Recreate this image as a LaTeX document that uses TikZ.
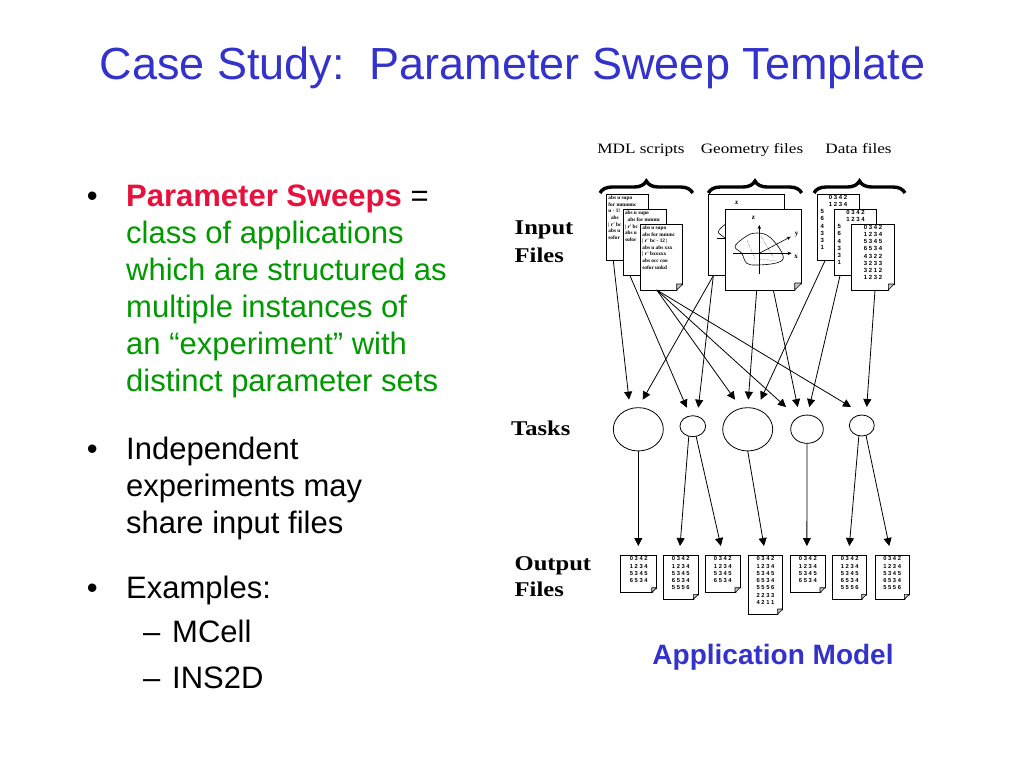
\documentclass[tikz,border=0pt]{standalone}
\usepackage{fontspec}
\usepackage{graphicx}
\setmainfont{Liberation Sans}
\newfontfamily\serifrm{Liberation Serif}
\usetikzlibrary{arrows.meta,decorations.pathreplacing,shapes.geometric,calc}
\definecolor{titleblue}{RGB}{51,51,204}
\definecolor{keyred}{RGB}{232,16,60}
\definecolor{txtgreen}{RGB}{0,153,0}
\frenchspacing
\newcommand\dogear[2]{%
  \fill[white] ($(#1.south east)+(1.2,-#2)$) -- ($(#1.south east)+(1.2,1.2)$) -- ($(#1.south east)+(-#2,1.2)$) -- cycle;
  \draw[fill=gray!45, line width=0.6pt, line join=round] ($(#1.south east)+(0,-#2)$) -- ($(#1.south east)+(-#2,0)$) -- ($(#1.south east)+(-#2,-#2)$) -- cycle;
}
\newcommand\geoshape{%
  \draw[line width=0.6pt] plot[smooth cycle, tension=0.6] coordinates {(10,37.7) (18.3,29.3) (28.3,24.3) (41.7,26) (53.3,37.7) (58.3,49.3) (50,54.3) (31.7,56) (21.7,54.3) (16.7,44.3)};
  \draw[line width=0.4pt, densely dotted] (22,31) -- (30,50);
  \draw[line width=0.4pt, densely dotted] (36,27) -- (48,48);
  \draw[line width=0.4pt, densely dotted] (34,50) -- (52,52);
  \draw[line width=0.6pt, -{Stealth[length=4pt,width=3.5pt]}] (34.3,65.3) -- (34.3,16);
  \draw[line width=0.6pt, -{Stealth[length=4pt,width=3.5pt]}] (8.3,44.3) -- (66.5,44.3);
  \draw[line width=0.6pt, -{Stealth[length=4pt,width=3.5pt]}] (34.3,44.3) -- (65.7,27.7);
}
\begin{document}
\begin{tikzpicture}[x=1pt,y=-1pt,
  titlestyle/.style={anchor=base, inner sep=0, font=\fontsize{45}{54}\selectfont, text=titleblue},
  body/.style={anchor=base west, inner sep=0, font=\fontsize{31}{37}\selectfont},
  greenbody/.style={body, text=txtgreen},
  lbl/.style={anchor=base west, inner sep=0, font=\serifrm\bfseries\fontsize{21}{25}\selectfont},
  toplbl/.style={anchor=base, inner sep=0, font=\serifrm\fontsize{14.3}{16}\selectfont},
  bracestyle/.style={decorate, decoration={brace, amplitude=12pt}, line width=3.4pt},
  doc/.style={draw, fill=white, rectangle, inner sep=0, outer sep=0, anchor=north west, line width=0.8pt},
  mdltxt/.style={inner sep=0, anchor=north west, align=left, font=\serifrm\bfseries\fontsize{5.3}{6.6}\selectfont},
  datatxt/.style={inner sep=0, anchor=north, align=center, font=\bfseries\fontsize{6}{7.2}\selectfont},
  datacol/.style={inner sep=0, anchor=north west, align=left, font=\bfseries\fontsize{6}{7.2}\selectfont},
  outtxt/.style={inner sep=0, anchor=north, align=center, font=\bfseries\fontsize{5.8}{7.3}\selectfont},
  axlbl/.style={inner sep=0, font=\serifrm\bfseries\fontsize{7}{8}\selectfont},
  task/.style={draw, ellipse, inner sep=0, outer sep=0, line width=0.8pt},
  arr/.style={-{Triangle[width=8pt,length=8pt]}, line width=0.8pt}
]
\useasboundingbox[fill=white] (0,0) rectangle (1024,768);

% Title
\node[titlestyle] (title) at (512.5,79.5) {Case Study:~ Parameter Sweep Template};

% Left text
\node[body] (b1) at (86.6,206) {•};
\node[body] (l1) at (126,206) {\textcolor{keyred}{\bfseries Parameter Sweeps} =};
\node[greenbody] (l2) at (126,243) {class of applications};
\node[greenbody] (l3) at (126,280) {which are structured as};
\node[greenbody] (l4) at (126,317) {multiple instances of};
\node[greenbody] (l5) at (126,354) {an “experiment” with};
\node[greenbody] (l6) at (126,391) {distinct parameter sets};
\node[body] (b2) at (86.6,459) {•};
\node[body] (l7) at (126,459) {Independent};
\node[body] (l8) at (126,496) {experiments may};
\node[body] (l9) at (126,533) {share input files};
\node[body] (b3) at (86.6,598) {•};
\node[body] (l10) at (126,598) {Examples:};
\node[body] (d1) at (143,642) {–};
\node[body] (l11) at (172,642) {MCell};
\node[body] (d2) at (143,688) {–};
\node[body] (l12) at (172,688) {INS2D};

\node[anchor=base, inner sep=0, font=\bfseries\fontsize{28}{32}\selectfont, text=titleblue] (appmodel) at (773,664) {Application Model};

% Diagram labels
\node[lbl] (inlbl1) at (514.5,234) {\scalebox{1.17}[1]{Input}};
\node[lbl] (inlbl2) at (514.5,262) {\scalebox{1.17}[1]{Files}};
\node[lbl] (tasklbl) at (511,435) {\scalebox{1.17}[1]{Tasks}};
\node[lbl] (outlbl1) at (514.5,570) {\scalebox{1.17}[1]{Output}};
\node[lbl] (outlbl2) at (514.5,596) {\scalebox{1.17}[1]{Files}};

\node[toplbl] (mdllbl) at (641,153.5) {\scalebox{1.2}[1]{MDL scripts}};
\node[toplbl] (geolbl) at (752,153.5) {\scalebox{1.2}[1]{Geometry files}};
\node[toplbl] (datlbl) at (858.5,153.5) {\scalebox{1.2}[1]{Data files}};

\coordinate (br1a) at (600,193);  \coordinate (br1b) at (692.7,193);
\coordinate (br2a) at (708.3,193); \coordinate (br2b) at (801.7,193);
\coordinate (br3a) at (814,193);  \coordinate (br3b) at (905,193);
\draw[bracestyle] (br1a) -- (br1b);
\draw[bracestyle] (br2a) -- (br2b);
\draw[bracestyle] (br3a) -- (br3b);

% MDL scripts
\node[doc, minimum width=41.6, minimum height=66.7] (m1) at (606.7,194) {};
\node[mdltxt] (m1top) at ($(m1.north west)+(1.5,1.6)$) {abs u supo\\for mmmmc};
\node[mdltxt] (m1col) at ($(m1.north west)+(1.5,15.2)$) {u - 1!\\\ \ abs\\| r' bc\\abs u\\sofor};
\node[doc, minimum width=42.7, minimum height=66.7] (m2) at (623.3,209) {};
\node[mdltxt] (m2top) at ($(m2.north west)+(1.5,1.6)$) {abs u supo\\\ \ abs for mmmc};
\node[mdltxt] (m2col) at ($(m2.north west)+(1.5,15.2)$) {| r' bc\\abs u\\sofor\\};
\node[doc, minimum width=42, minimum height=66] (m3) at (640.7,224) {};
\begin{scope}\clip (m3.north west) rectangle (m3.south east);
\node[mdltxt] (m3txt) at ($(m3.north west)+(1.5,1.6)$) {abs u supo\\abs for mmmc\\| r' bc - 12 |\\abs u abs xxx\\| r' bxxxxx\\abs occ coo\\sofor unkd};\end{scope}
\dogear{m3}{6}

% Geometry files
\node[doc, minimum width=75.7, minimum height=81.7] (g1) at (708.3,194) {};
\begin{scope}[shift={(708.3,194)}]
  \begin{scope}\clip (0,0) rectangle (75.7,81.7); \geoshape \end{scope}
  \node[axlbl] (g1z) at (28.3,9.3) {z};
\end{scope}
\node[doc, minimum width=76.7, minimum height=81] (g2) at (725,209) {};
\begin{scope}[shift={(725,209)}]
  \geoshape
  \node[axlbl] (g2z) at (28.3,9.3) {z};
  \node[axlbl] (g2x) at (71,47.7) {x};
  \node[axlbl] (g2y) at (71.7,25.3) {y};
\end{scope}
\dogear{g2}{7}

% Data files
\node[doc, minimum width=41.7, minimum height=66.7] (f1) at (817.3,194) {};
\node[datatxt] (f1top) at ($(f1.north)+(0,1)$) {0 3 4 2\\1 2 3 4};
\node[datacol] (f1col) at ($(f1.north west)+(3,15.4)$) {5\\6\\4\\3\\3\\1};
\node[doc, minimum width=42.4, minimum height=66.7] (f2) at (834.3,209) {};
\node[datatxt] (f2top) at ($(f2.north)+(0,1)$) {0 3 4 2\\1 2 3 4};
\node[datacol] (f2col) at ($(f2.north west)+(3,15.4)$) {5\\6\\4\\3\\3\\1};
\node[doc, minimum width=42.6, minimum height=66] (f3) at (851.7,224) {};
\node[datatxt] (f3txt) at ($(f3.north)+(0,1)$) {0 3 4 2\\1 2 3 4\\5 3 4 5\\6 5 3 4\\4 3 2 2\\3 2 3 3\\3 2 1 2\\1 2 3 2};
\dogear{f3}{6}

% Tasks
\node[task, minimum width=50, minimum height=43.3] (t1) at (638.3,429.3) {};
\node[task, minimum width=25.7, minimum height=21] (t2) at (692.8,426.2) {};
\node[task, minimum width=50, minimum height=43.3] (t3) at (747.7,429.3) {};
\node[task, minimum width=32.6, minimum height=28.3] (t4) at (807,429.2) {};
\node[task, minimum width=25, minimum height=21] (t5) at (861.8,425.5) {};

% Input arrows
\draw[arr] ($(m1.south west)+(6.6,0)$) -- ($(t1.north)+(-9.3,-8)$);
\draw[arr] ($(m2.south west)+(6.7,0)$) -- ($(t2.north)+(-6.1,-8)$);
\draw[arr] ($(m3.south west)+(16,0)$) -- ($(t3.north)+(-12.7,-8)$);
\draw[arr] ($(m3.south west)+(16,0)$) -- ($(t4.north)+(-21,-8)$);
\draw[arr] ($(m3.south west)+(16,0)$) -- ($(t5.north)+(-10.8,-8)$);
\draw[arr] ($(g1.south west)+(5,0)$) -- ($(t1.north)+(4.4,-8)$);
\draw[arr] ($(g1.south west)+(5,0)$) -- ($(t2.north)+(5.5,-8)$);
\draw[arr] ($(g2.south west)+(31.7,0)$) -- ($(t3.north)+(0.6,-8)$);
\draw[arr] ($(g2.south west)+(48.3,0)$) -- ($(t4.north)+(-9.3,-8)$);
\draw[arr] ($(f1.south west)+(7.7,0)$) -- ($(t3.north)+(13,-8)$);
\draw[arr] ($(f2.south west)+(5.7,0)$) -- ($(t4.north)+(2.3,-8)$);
\draw[arr] ($(f3.south west)+(23.3,0)$) -- ($(t5.north)+(4.9,-8)$);

% Output files
\node[doc, minimum width=36, minimum height=37.7] (o1) at (620.7,555) {};
\node[outtxt] at ($(o1.north)+(0,1.5)$) {0 3 4 2\\1 2 3 4\\5 3 4 5\\6 5 3 4};
\dogear{o1}{5}
\node[doc, minimum width=35, minimum height=44.3] (o2) at (663.3,555) {};
\node[outtxt] at ($(o2.north)+(0,1.5)$) {0 3 4 2\\1 2 3 4\\5 3 4 5\\6 5 3 4\\5 5 5 6};
\dogear{o2}{5}
\node[doc, minimum width=34.3, minimum height=37.7] (o3) at (705.7,555) {};
\node[outtxt] at ($(o3.north)+(0,1.5)$) {0 3 4 2\\1 2 3 4\\5 3 4 5\\6 5 3 4};
\dogear{o3}{5}
\node[doc, minimum width=34.4, minimum height=59] (o4) at (748.3,555) {};
\node[outtxt] at ($(o4.north)+(0,1.5)$) {0 3 4 2\\1 2 3 4\\5 3 4 5\\6 5 3 4\\5 5 5 6\\2 2 3 3\\4 2 1 1};
\dogear{o4}{5}
\node[doc, minimum width=34.3, minimum height=37.7] (o5) at (790.7,555) {};
\node[outtxt] at ($(o5.north)+(0,1.5)$) {0 3 4 2\\1 2 3 4\\5 3 4 5\\6 5 3 4};
\dogear{o5}{5}
\node[doc, minimum width=34, minimum height=44.3] (o6) at (832.7,555) {};
\node[outtxt] at ($(o6.north)+(0,1.5)$) {0 3 4 2\\1 2 3 4\\5 3 4 5\\6 5 3 4\\5 5 5 6};
\dogear{o6}{5}
\node[doc, minimum width=34.3, minimum height=44.3] (o7) at (875,555) {};
\node[outtxt] at ($(o7.north)+(0,1.5)$) {0 3 4 2\\1 2 3 4\\5 3 4 5\\6 5 3 4\\5 5 5 6};
\dogear{o7}{5}

% Output arrows
\draw[arr] (t1.south) -- ($(o1.north)+(-0.4,-9)$);
\draw[arr] (t2.248) -- ($(o2.north)+(-0.8,-9)$);
\draw[arr] (t2.288) -- ($(o3.north)+(-2,-9)$);
\draw[arr] (t3.south) -- ($(o4.north)+(-1.5,-9)$);
\draw[arr] (t4.south) -- ($(o5.north)+(-1,-9)$);
\draw[arr] (t5.254) -- ($(o6.north)+(-0.4,-9)$);
\draw[arr] (t5.293) -- ($(o7.north)+(-2.9,-9)$);
\end{tikzpicture}
\end{document}
